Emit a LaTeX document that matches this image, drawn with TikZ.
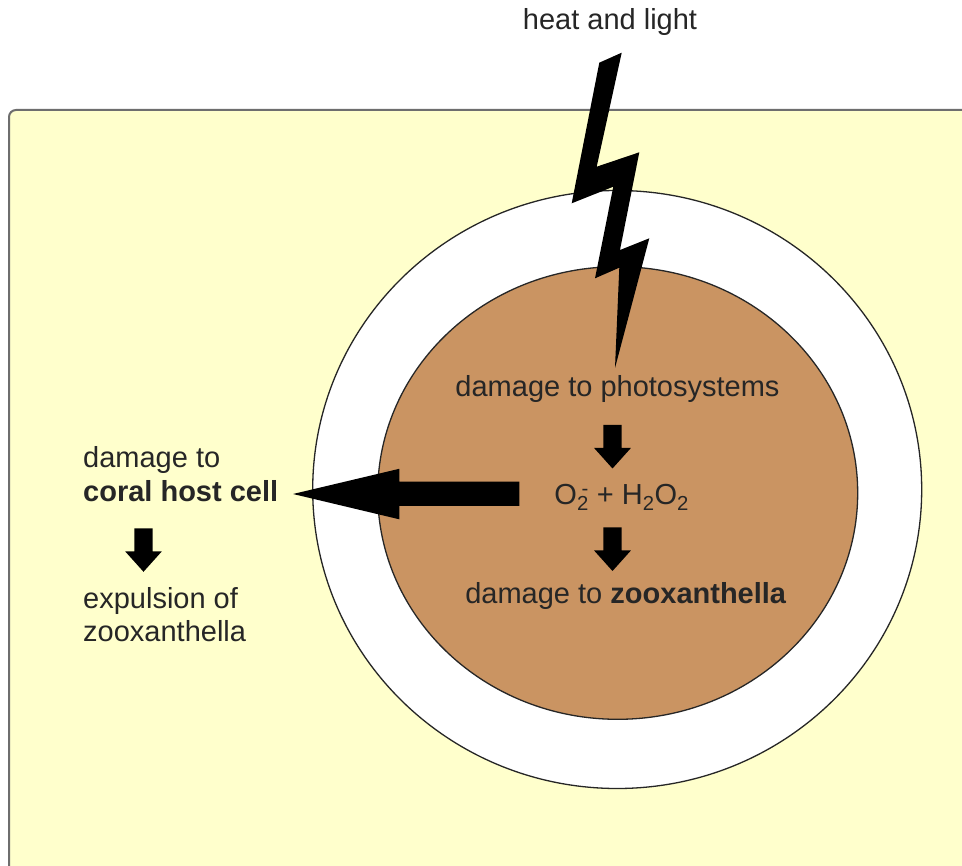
\documentclass[tikz,border=0pt]{standalone}
\usepackage{fontspec}
\setmainfont{Liberation Sans}
\definecolor{cellyellow}{RGB}{255,255,204}
\definecolor{algabrown}{RGB}{202,148,98}
\definecolor{rimgray}{RGB}{110,110,110}
\tikzset{
  lbl/.style={inner sep=0pt, font=\fontsize{29}{34}\selectfont, text=black!85},
  downarr/.pic={\fill[black] (-9.2,0) -- (9.2,0) -- (9.2,23) -- (18.4,23) -- (0,43.5) -- (-18.4,23) -- (-9.2,23) -- cycle;},
  ringline/.style={draw=black!85, line width=1.3pt}
}
\begin{document}
\begin{tikzpicture}[x=1pt,y=-1pt]
\useasboundingbox (0,0) rectangle (962,866);
\fill[white] (0,0) rectangle (962,866);
\clip (0,0) rectangle (962,866);
% host cell
\draw[fill=cellyellow, draw=rimgray, line width=2pt, rounded corners=7pt] (9,1000) -- (9,110) -- (1000,110) -- (1000,1000) -- cycle;
% zooxanthella rings
\path[ringline, fill=white] (617.2,489.5) ellipse [x radius=304.5, y radius=299];
\path[ringline, fill=algabrown] (617.7,493) ellipse [x radius=240, y radius=226.3];
% lightning bolt
\fill[black] (621.7,52.7) -- (596.7,166.7) -- (639.3,152.3) -- (620,250) -- (649.3,238.3) -- (615,368) -- (619.3,267.7) -- (595,278.3) -- (613.3,186.7) -- (571.7,203.3) -- (599.3,62.7) -- cycle;
% texts
\node[lbl, anchor=base] (heat) at (610,30) {heat and light};
\node[lbl, anchor=base] (photo) at (617.5,397) {damage to photosystems};
\node[lbl, anchor=base] (ros) at (621.7,505) {O\textsubscript{2}\llap{\textsuperscript{-}} + H\textsubscript{2}O\textsubscript{2}};
\node[lbl, anchor=base] (zoo) at (625.8,603.3) {damage to \textbf{zooxanthella}};
\node[lbl, anchor=base west] (host1) at (83,467.3) {damage to};
\node[lbl, anchor=base west] (host2) at (83,501.7) {\textbf{coral host cell}};
\node[lbl, anchor=base west] (exp1) at (83,608.3) {expulsion of};
\node[lbl, anchor=base west] (exp2) at (83,641.7) {zooxanthella};
% arrows
\coordinate (a1) at (612.5,425);
\coordinate (a2) at (612.5,527.5);
\coordinate (a3) at (143.5,528.3);
\pic at (a1) {downarr};
\pic at (a2) {downarr};
\pic at (a3) {downarr};
\fill[black] (519.3,481.7) -- (399.3,481.7) -- (399.3,468.8) -- (293,494) -- (399.3,519.3) -- (399.3,506) -- (519.3,506) -- cycle;
\end{tikzpicture}
\end{document}
